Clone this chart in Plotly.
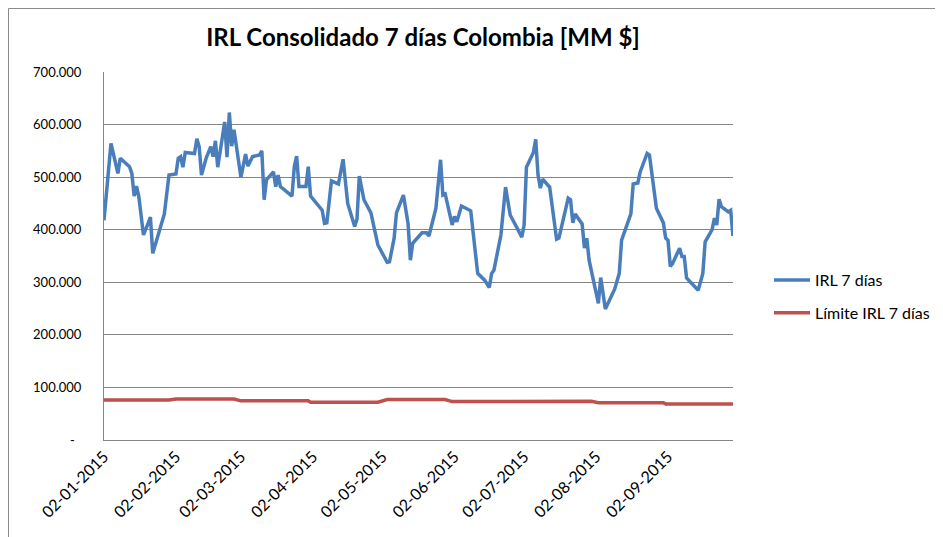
import plotly.graph_objects as go

# ---- data ----
irl_dates = [
    "2015-01-02", "2015-01-05", "2015-01-08", "2015-01-09", "2015-01-13", "2015-01-14",
    "2015-01-15", "2015-01-16", "2015-01-17", "2015-01-19", "2015-01-21", "2015-01-22",
    "2015-01-23", "2015-01-26", "2015-01-28", "2015-01-30", "2015-02-02", "2015-02-03",
    "2015-02-04", "2015-02-05", "2015-02-06", "2015-02-10", "2015-02-11", "2015-02-12",
    "2015-02-13", "2015-02-15", "2015-02-17", "2015-02-18", "2015-02-19", "2015-02-20",
    "2015-02-23", "2015-02-24", "2015-02-25", "2015-02-26", "2015-02-27", "2015-03-02",
    "2015-03-04", "2015-03-05", "2015-03-07", "2015-03-10", "2015-03-11", "2015-03-12",
    "2015-03-13", "2015-03-16", "2015-03-17", "2015-03-18", "2015-03-19", "2015-03-24",
    "2015-03-25", "2015-03-26", "2015-03-27", "2015-03-30", "2015-03-31", "2015-04-01",
    "2015-04-06", "2015-04-07", "2015-04-08", "2015-04-10", "2015-04-13", "2015-04-15",
    "2015-04-17", "2015-04-20", "2015-04-21", "2015-04-22", "2015-04-24", "2015-04-27",
    "2015-04-30", "2015-05-04", "2015-05-05", "2015-05-07", "2015-05-08", "2015-05-11",
    "2015-05-13", "2015-05-14", "2015-05-15", "2015-05-19", "2015-05-21", "2015-05-22",
    "2015-05-25", "2015-05-27", "2015-05-28", "2015-05-29", "2015-06-01", "2015-06-02",
    "2015-06-03", "2015-06-05", "2015-06-09", "2015-06-12", "2015-06-15", "2015-06-17",
    "2015-06-18", "2015-06-19", "2015-06-22", "2015-06-24", "2015-06-26", "2015-06-29",
    "2015-07-01", "2015-07-02", "2015-07-03", "2015-07-06", "2015-07-07", "2015-07-08",
    "2015-07-09", "2015-07-10", "2015-07-13", "2015-07-16", "2015-07-17", "2015-07-21",
    "2015-07-22", "2015-07-23", "2015-07-24", "2015-07-27", "2015-07-28", "2015-07-29",
    "2015-07-30", "2015-08-01", "2015-08-03", "2015-08-04", "2015-08-06", "2015-08-10",
    "2015-08-12", "2015-08-13", "2015-08-17", "2015-08-18", "2015-08-20", "2015-08-21",
    "2015-08-24", "2015-08-25", "2015-08-28", "2015-08-31", "2015-09-01", "2015-09-02",
    "2015-09-03", "2015-09-04", "2015-09-07", "2015-09-08", "2015-09-09", "2015-09-10",
    "2015-09-15", "2015-09-17", "2015-09-18", "2015-09-21", "2015-09-22", "2015-09-23",
    "2015-09-24", "2015-09-25", "2015-09-28", "2015-09-29", "2015-09-30",
]
irl_values = [
    418000, 564000, 507000, 536000, 520000, 507000,
    464000, 483000, 463000, 390000, 412000, 424000,
    355000, 400000, 430000, 504000, 506000, 536000,
    539000, 519000, 547000, 545000, 573000, 558000,
    504000, 536000, 558000, 539000, 569000, 519000,
    605000, 538000, 623000, 559000, 590000, 500000,
    544000, 521000, 539000, 542000, 550000, 457000,
    495000, 510000, 482000, 504000, 482000, 464000,
    520000, 540000, 482000, 482000, 520000, 464000,
    437000, 412000, 413000, 493000, 487000, 534000,
    450000, 406000, 420000, 502000, 457000, 432000,
    371000, 338000, 339000, 384000, 432000, 466000,
    412000, 342000, 374000, 394000, 394000, 388000,
    441000, 533000, 466000, 468000, 409000, 425000,
    415000, 445000, 436000, 317000, 304000, 290000,
    317000, 323000, 390000, 481000, 428000, 403000,
    386000, 409000, 519000, 547000, 572000, 504000,
    479000, 496000, 481000, 382000, 384000, 460000,
    457000, 413000, 430000, 411000, 365000, 384000,
    342000, 301000, 260000, 309000, 249000, 287000,
    317000, 380000, 430000, 487000, 489000, 510000,
    545000, 542000, 441000, 413000, 384000, 380000,
    330000, 336000, 365000, 349000, 349000, 308000,
    285000, 317000, 377000, 400000, 422000, 409000,
    458000, 444000, 434000, 437000, 388000,
]

limit_dates = [
    "2015-01-02", "2015-01-30", "2015-02-02", "2015-02-27", "2015-03-02", "2015-03-31",
    "2015-04-01", "2015-04-30", "2015-05-04", "2015-05-29", "2015-06-01", "2015-06-30",
    "2015-07-01", "2015-07-31", "2015-08-03", "2015-08-31", "2015-09-01", "2015-09-30",
]
limit_values = [
    76000, 76000, 78000, 78000, 74500, 74500,
    72000, 72000, 77000, 77000, 73000, 73000,
    73500, 73500, 71000, 71000, 68500, 68500,
]

x_tick_dates = ["2015-01-02", "2015-02-02", "2015-03-02", "2015-04-02", "2015-05-02",
                "2015-06-02", "2015-07-02", "2015-08-02", "2015-09-02"]
x_tick_labels = ["02-01-2015", "02-02-2015", "02-03-2015", "02-04-2015", "02-05-2015",
                 "02-06-2015", "02-07-2015", "02-08-2015", "02-09-2015"]
y_tick_values = [0, 100000, 200000, 300000, 400000, 500000, 600000, 700000]
y_tick_labels = ["-\u00a0\u00a0", "100.000", "200.000", "300.000", "400.000",
                 "500.000", "600.000", "700.000"]

title_text = "<b>IRL Consolidado 7 días Colombia [MM $]</b>"
FONT = "Lato, 'Open Sans', sans-serif"

# ---- figure (page body has an 8px margin, so the figure is offset by 8px) ----
OFF = 8
W, H = 943 - OFF, 537 - OFF
L, R, T, B = 96, 210, 64, 97
pw, ph = W - L - R, H - T - B

fig = go.Figure()
fig.add_trace(go.Scatter(
    x=irl_dates, y=irl_values, mode="lines", name="IRL 7 días",
    line=dict(color="#4A7EBB", width=3.5), legendgroup="a",
))
fig.add_trace(go.Scatter(
    x=limit_dates, y=limit_values, mode="lines", name="Límite IRL 7 días",
    line=dict(color="#C0504D", width=3.5), legendgroup="b",
))

# outer chart border (right and bottom edges fall outside the picture)
fig.add_shape(type="rect", xref="paper", yref="paper",
              x0=(0.5 - L) / pw, x1=(W + 20 - L) / pw,
              y0=-(B + 20) / ph, y1=(ph + T - 0.5) / ph,
              line=dict(color="#8C8C8C", width=1), layer="below")

fig.update_layout(
    width=W, height=H,
    margin=dict(l=L, r=R, t=T, b=B, pad=0, autoexpand=False),
    paper_bgcolor="white", plot_bgcolor="white",
    font=dict(family=FONT, size=14, color="#000000"),
    title=dict(text=title_text, x=(423 - OFF) / W, xanchor="center",
               y=1 - (38 - OFF) / H, yanchor="middle",
               font=dict(family=FONT, size=24, color="#000000")),
    showlegend=True,
    legend=dict(x=(769 - OFF - L) / pw, xanchor="left", y=0.39, yanchor="middle",
                font=dict(family=FONT, size=16, color="#000000"),
                tracegroupgap=9, itemwidth=36, bgcolor="rgba(0,0,0,0)"),
    hovermode=False,
)
fig.update_xaxes(
    type="date", range=["2015-01-02", "2015-09-30"],
    tickvals=x_tick_dates, ticktext=x_tick_labels, tickangle=-45,
    showgrid=False, showline=True, linecolor="#868686", linewidth=1,
    ticks="", tickfont=dict(family=FONT, size=16, color="#000000"),
    zeroline=False, automargin=False,
)
fig.update_yaxes(
    range=[0, 700000], tickvals=y_tick_values, ticktext=y_tick_labels,
    showgrid=True, gridcolor="#868686", gridwidth=1,
    showline=True, linecolor="#868686", linewidth=1,
    ticks="", ticklabelstandoff=19,
    tickfont=dict(family=FONT, size=13, color="#000000"),
    zeroline=False, automargin=False,
)

fig.write_html("out.html")
